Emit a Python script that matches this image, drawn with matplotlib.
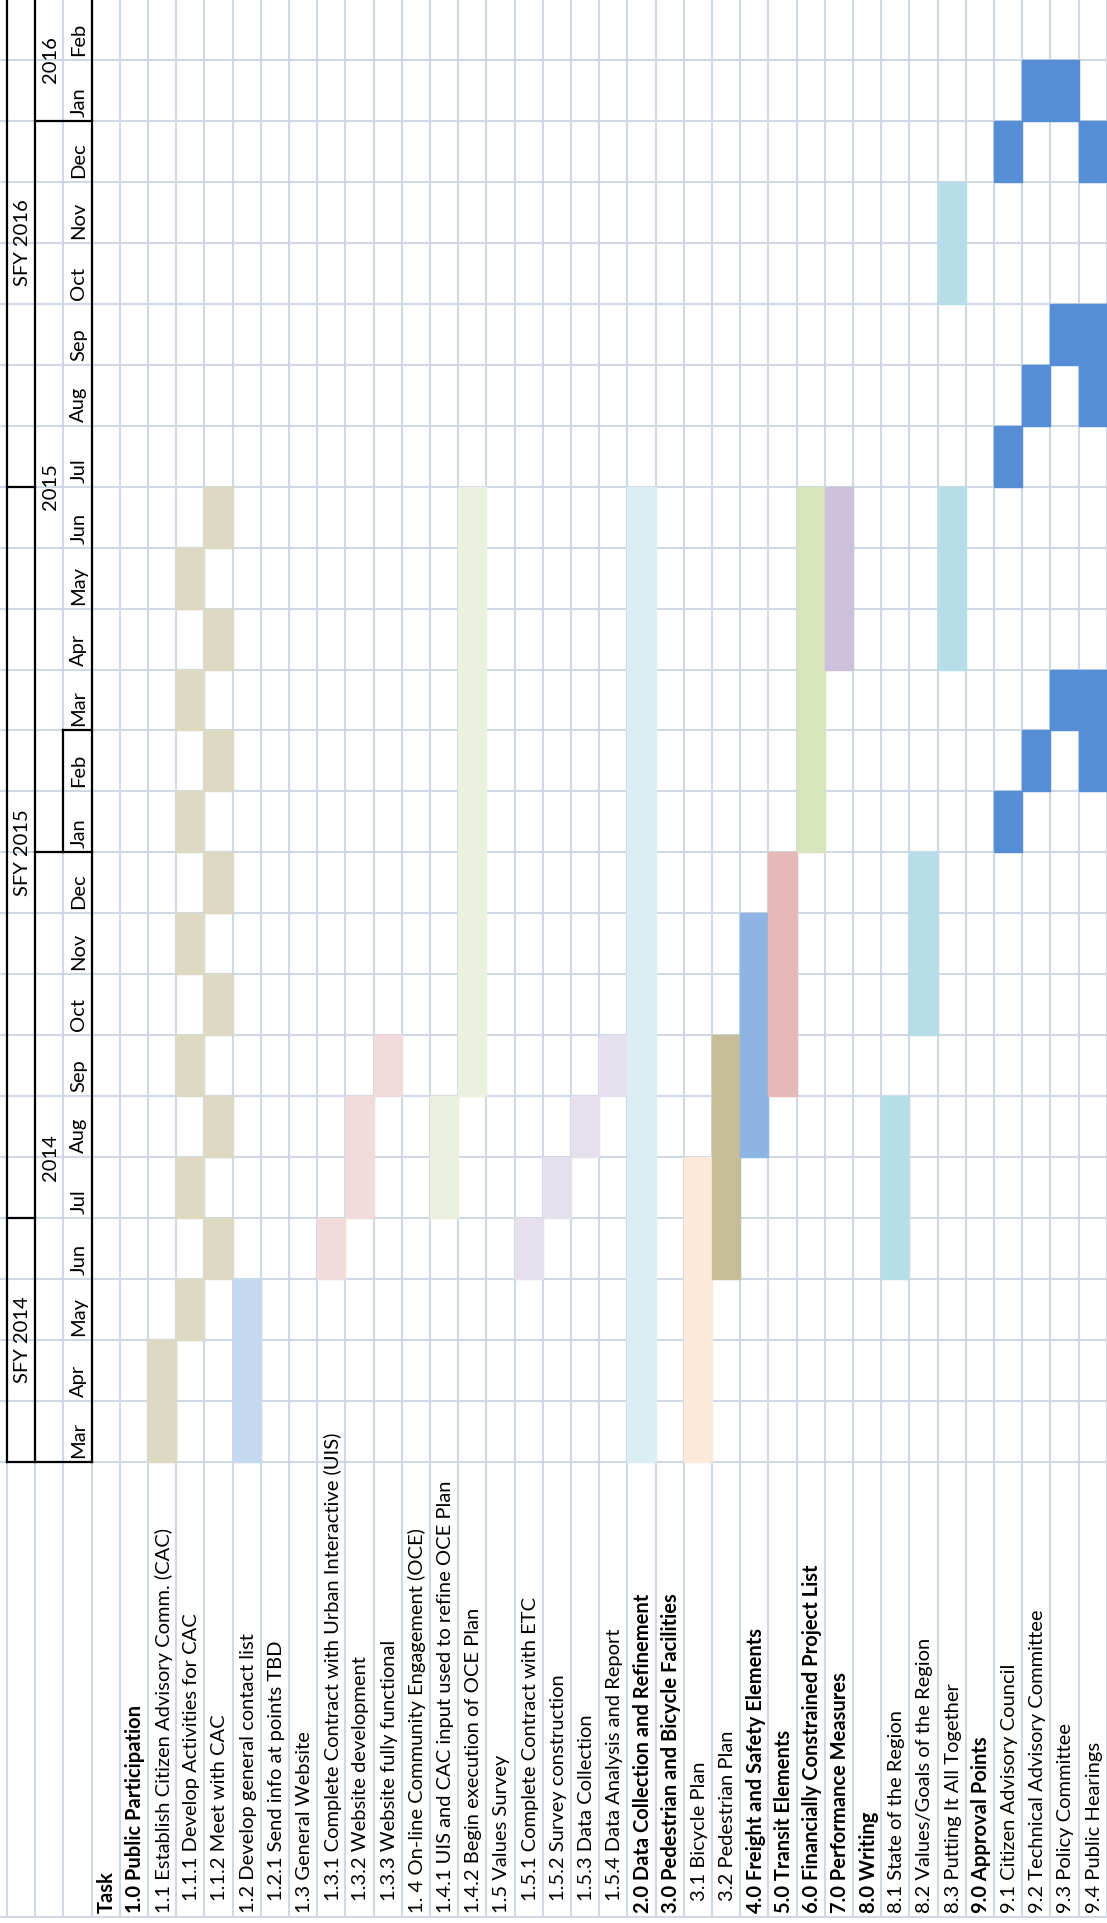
import matplotlib
matplotlib.use('Agg')
import matplotlib.pyplot as plt

plt.rcParams['font.family'] = ['Lato', 'DejaVu Sans']

# month rows (bottom to top when rotated): Mar 2014 .. Feb 2016
months = ['Mar', 'Apr', 'May', 'Jun', 'Jul', 'Aug', 'Sep', 'Oct', 'Nov', 'Dec',
          'Jan', 'Feb', 'Mar', 'Apr', 'May', 'Jun', 'Jul', 'Aug', 'Sep', 'Oct',
          'Nov', 'Dec', 'Jan', 'Feb']
years = ['2014', '2015', '2016']
year_spans = [(0, 10), (10, 12), (22, 2)]
sfy = ['SFY 2014', 'SFY 2015', 'SFY 2016']
sfy_spans = [(0, 4), (4, 12), (16, 8)]

tasks = ['Task',
         '1.0 Public Participation',
         '1.1 Establish Citizen Advisory Comm. (CAC)',
         '1.1.1 Develop Activities for CAC',
         '1.1.2 Meet with CAC',
         '1.2 Develop general contact list',
         '1.2.1 Send info at points TBD',
         '1.3 General Website',
         '1.3.1 Complete Contract with Urban Interactive (UIS)',
         '1.3.2 Website development',
         '1.3.3 Website fully functional',
         '1. 4 On-line Community Engagement (OCE)',
         '1.4.1 UIS and CAC input used to refine OCE Plan',
         '1.4.2 Begin execution of OCE Plan',
         '1.5 Values Survey',
         '1.5.1 Complete Contract with ETC',
         '1.5.2 Survey construction',
         '1.5.3 Data Collection',
         '1.5.4 Data Analysis and Report',
         '2.0 Data Collection and Refinement',
         '3.0 Pedestrian and Bicycle Facilities',
         '3.1 Bicycle Plan',
         '3.2 Pedestrian Plan',
         '4.0 Freight and Safety Elements',
         '5.0 Transit Elements',
         '6.0 Financially Constrained Project List',
         '7.0 Performance Measures',
         '8.0 Writing',
         '8.1 State of the Region',
         '8.2 Values/Goals of the Region',
         '8.3 Putting It All Together',
         '9.0 Approval Points',
         '9.1 Citizen Advisory Council',
         '9.2 Technical Advisory Committee',
         '9.3 Policy Committee',
         '9.4 Public Hearings']
bold = ['Task', '1.0', '2.0', '3.0', '4.0', '5.0', '6.0', '7.0', '8.0', '9.0']
indented = ['1.1.1', '1.1.2', '1.2.1', '1.3.1', '1.3.2', '1.3.3',
            '1.5.1', '1.5.2', '1.5.3', '1.5.4', '3.1', '3.2']

# (start month index, number of months)
spans = {
    '1.1': [(0, 2)],
    '1.1.1': [(2, 1), (4, 1), (6, 1), (8, 1), (10, 1), (12, 1), (14, 1)],
    '1.1.2': [(3, 1), (5, 1), (7, 1), (9, 1), (11, 1), (13, 1), (15, 1)],
    '1.2': [(0, 3)],
    '1.3.1': [(3, 1)],
    '1.3.2': [(4, 2)],
    '1.3.3': [(6, 1)],
    '1.4.1': [(4, 2)],
    '1.4.2': [(6, 10)],
    '1.5.1': [(3, 1)],
    '1.5.2': [(4, 1)],
    '1.5.3': [(5, 1)],
    '1.5.4': [(6, 1)],
    '2.0': [(0, 16)],
    '3.1': [(0, 5)],
    '3.2': [(3, 4)],
    '4.0': [(5, 4)],
    '5.0': [(6, 4)],
    '6.0': [(10, 6)],
    '7.0': [(13, 3)],
    '8.1': [(3, 3)],
    '8.2': [(7, 3)],
    '8.3': [(13, 3), (19, 2)],
    '9.1': [(10, 1), (16, 1), (21, 1)],
    '9.2': [(11, 1), (17, 1), (22, 1)],
    '9.3': [(12, 1), (18, 1), (22, 1)],
    '9.4': [(11, 2), (17, 2), (21, 1)],
}
colors = {
    '1.1': '#DDD9C3', '1.1.1': '#DDD9C3', '1.1.2': '#DDD9C3',
    '1.2': '#C5D9F1',
    '1.3.1': '#F2DCDB', '1.3.2': '#F2DCDB', '1.3.3': '#F2DCDB',
    '1.4.1': '#EBF1DE', '1.4.2': '#EBF1DE',
    '1.5.1': '#E5E0EC', '1.5.2': '#E5E0EC', '1.5.3': '#E5E0EC', '1.5.4': '#E5E0EC',
    '2.0': '#DAEEF3',
    '3.1': '#FDE9D9', '3.2': '#C4BD97',
    '4.0': '#8DB4E2', '5.0': '#E6B8B7', '6.0': '#D8E4BC', '7.0': '#CCC0DA',
    '8.1': '#B7DEE8', '8.2': '#B7DEE8', '8.3': '#B7DEE8',
    '9.1': '#558ED5', '9.2': '#558ED5', '9.3': '#558ED5', '9.4': '#558ED5',
}

# sheet geometry in pixels
W = 28.2      # column width
H = 60.96     # month row height
X0 = 7        # left edge of first column
Y0 = 1462     # bottom of Mar 2014 row
FW, FH = 1107, 1923
FS = 14.5

fig = plt.figure(figsize=(FW / 100, FH / 100), dpi=100)
ax = fig.add_axes([0, 0, 1, 1])
xmin, xmax = -X0 / W, (FW - X0) / W
ymin, ymax = -(FH - Y0) / H, Y0 / H
ax.set_xlim(xmin, xmax)
ax.set_ylim(ymin, ymax)
ax.axis('off')

grid = '#D0D7E5'
ncols = 3 + len(tasks)
nmonths = len(months)
label_bottom = -(1917 - Y0) / H

for c in range(ncols + 1):
    ax.plot([c, c], [label_bottom, ymax], color=grid, lw=1.5, zorder=1)
for m in range(nmonths + 1):
    ax.plot([xmin, xmax], [m, m], color=grid, lw=1.5, zorder=1)
ax.plot([xmin, xmax], [label_bottom, label_bottom], color=grid, lw=1.5, zorder=1)

# bars
for i, t in enumerate(tasks):
    key = t.split(' ')[0]
    c = 3 + i
    for start, n in spans.get(key, []):
        ax.bar(c + 0.5, n, bottom=start, width=1.0, color=colors[key],
               edgecolor=colors[key], linewidth=1.0, zorder=2)

# task labels
for i, t in enumerate(tasks):
    key = t.split(' ')[0]
    c = 3 + i
    y = label_bottom + 4 / H + (12 / H if key in indented else 0)
    ax.text(c + 0.55, y, t, rotation=90, ha='center', va='bottom', fontsize=FS,
            fontweight='bold' if key in bold else 'normal', color='black', zorder=4)

# header: months, years, SFY
for m, name in enumerate(months):
    ax.text(2.55, m + 4 / H, name, rotation=90, ha='center', va='bottom',
            fontsize=FS, zorder=4)
for name, (s, n) in zip(years, year_spans):
    ax.text(1.55, s + n / 2, name, rotation=90, ha='center', va='center',
            fontsize=FS, zorder=4)
for name, (s, n) in zip(sfy, sfy_spans):
    ax.text(0.55, s + n / 2, name, rotation=90, ha='center', va='center',
            fontsize=FS, zorder=4)

# black borders of the header block
blk = dict(color='black', lw=1.6, zorder=3, solid_capstyle='projecting')
for c in [0, 1, 3]:
    ax.plot([c, c], [0, ymax], **blk)
ax.plot([0, 3], [0, 0], **blk)
for s, n in sfy_spans[1:]:
    ax.plot([0, 1], [s, s], **blk)
for s, n in year_spans[1:]:
    ax.plot([1, 3], [s, s], **blk)
ax.plot([2, 3], [12, 12], **blk)
ax.plot([2, 2], [10, 12], **blk)

fig.savefig('out.png', dpi=100)
